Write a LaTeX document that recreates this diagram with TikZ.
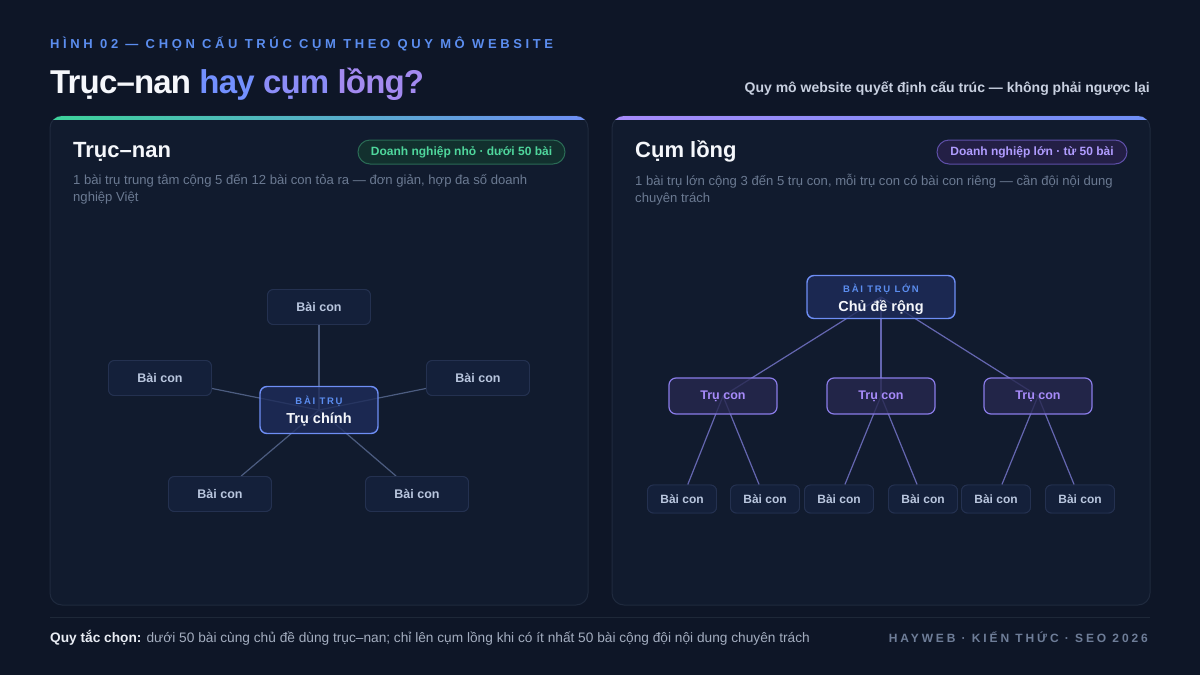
\documentclass[tikz,border=0pt]{standalone}
\usepackage{fontspec}
\setmainfont{Liberation Sans}
\usetikzlibrary{positioning}
\definecolor{bg}{HTML}{0E1627}
\definecolor{panelfill}{HTML}{111B2E}
\definecolor{panelborder}{HTML}{1F2A3E}
\definecolor{hdrblue}{HTML}{5B8DEF}
\definecolor{titlewhite}{HTML}{F5F7FB}
\definecolor{subgray}{HTML}{C8D0E0}
\definecolor{descgray}{HTML}{6B7A92}
\definecolor{leaffill}{HTML}{14203A}
\definecolor{leafborder}{HTML}{243150}
\definecolor{leaftext}{HTML}{B9C6DE}
\definecolor{lineleft}{HTML}{4C5C80}
\definecolor{hubfill}{HTML}{1E2C5A}
\definecolor{hubborder}{HTML}{6E8EF5}
\definecolor{lineright}{HTML}{6466B0}
\definecolor{subfill}{HTML}{27284F}
\definecolor{subborder}{HTML}{8A7CE8}
\definecolor{subtext}{HTML}{A78BFA}
\definecolor{footsep}{HTML}{1E2838}
\definecolor{footbold}{HTML}{E8ECF3}
\definecolor{foottext}{HTML}{A3ADBF}
\definecolor{footright}{HTML}{6E7D98}
\definecolor{greentop}{HTML}{3DD39A}
\definecolor{bluetop}{HTML}{6E8EF5}
\definecolor{purpletop}{HTML}{A78BFA}
\definecolor{greenpilltext}{HTML}{4FD69C}
\definecolor{greenpillfill}{HTML}{12302E}
\definecolor{greenpillborder}{HTML}{2A6B55}
\definecolor{purplepilltext}{HTML}{B09CFF}
\definecolor{purplepillfill}{HTML}{231F45}
\definecolor{purplepillborder}{HTML}{5E4FA8}
\definecolor{grad1}{HTML}{7390FF}
\definecolor{grad2}{HTML}{8C8DF8}
\definecolor{grad3}{HTML}{A38AF0}
\newcommand{\fsz}[1]{\fontsize{#1}{#1}\selectfont}
\tikzset{
  panel/.style={draw=panelborder, fill=panelfill, rounded corners=12pt, line width=1pt},
  leaf/.style={draw=leafborder, fill=leaffill, rounded corners=6pt, line width=0.9pt,
    minimum width=103pt, minimum height=35pt, inner sep=0pt, text=leaftext,
    font=\fsz{12.5}\bfseries},
  leafsm/.style={leaf, minimum width=69pt, minimum height=28pt, font=\fsz{12}\bfseries},
  hub/.style={draw=hubborder, fill=hubfill, fill opacity=0.8, text opacity=1,
    rounded corners=7pt, line width=1.4pt, inner sep=0pt, align=center},
  subpillar/.style={draw=subborder, fill=subfill, fill opacity=0.8, text opacity=1,
    rounded corners=7pt, line width=1.2pt, minimum width=108pt, minimum height=36pt,
    inner sep=0pt, text=subtext, font=\fsz{12.5}\bfseries},
  spoke/.style={draw=lineleft, line width=1.2pt},
  treeline/.style={draw=lineright, line width=1.2pt},
  pill/.style={rounded corners=12pt, line width=1pt, inner sep=0pt, minimum height=24pt,
    font=\fsz{12}\bfseries},
  txt/.style={inner sep=0pt, anchor=base west},
}
\begin{document}
\begin{tikzpicture}[x=1pt,y=-1pt]
\useasboundingbox (0,0) rectangle (1200,675);
\fill[bg] (0,0) rectangle (1200,675);

% header
\node[txt, text=hdrblue, font=\fsz{13}\bfseries\addfontfeatures{LetterSpace=28}] (hdr) at (50,48) {HÌNH 02 — CHỌN CẤU TRÚC CỤM THEO QUY MÔ WEBSITE};
\node[txt, font=\fsz{33}\bfseries\addfontfeatures{LetterSpace=-2.5}] (title) at (50,93) {\textcolor{titlewhite}{Trục–nan} \textcolor{grad1}{hay} \textcolor{grad2}{cụm} \textcolor{grad3}{lồng?}};
\node[inner sep=0pt, anchor=base east, text=subgray, font=\fsz{14}\bfseries] (subtitle) at (1150,92) {Quy mô website quyết định cấu trúc — không phải ngược lại};

% panels
\path[panel] (50,116) rectangle (588,605);
\path[panel] (612,116) rectangle (1150,605);
\begin{scope}
  \clip[rounded corners=12pt] (50,116) rectangle (588,605);
  \shade[left color=greentop, right color=bluetop] (50,115) rectangle (588,119);
\end{scope}
\begin{scope}
  \clip[rounded corners=12pt] (612,116) rectangle (1150,605);
  \shade[left color=purpletop, right color=bluetop] (612,115) rectangle (1150,119);
\end{scope}

% left panel header
\node[txt, text=titlewhite, font=\fsz{22}\bfseries] (ltitle) at (73,157) {Trục–nan};
\node[pill, draw=greenpillborder, fill=greenpillfill, text=greenpilltext, minimum width=207pt] (lpill) at (461.5,152) {Doanh nghiệp nhỏ · dưới 50 bài};
\node[txt, anchor=north west, text=descgray, font=\fsz{13.1}, align=left] (ldesc) at (73,174) {1 bài trụ trung tâm cộng 5 đến 12 bài con tỏa ra — đơn giản, hợp đa số doanh\\[4pt]nghiệp Việt};

% right panel header
\node[txt, text=titlewhite, font=\fsz{22}\bfseries] (rtitle) at (635,157) {Cụm lồng};
\node[pill, draw=purplepillborder, fill=purplepillfill, text=purplepilltext, minimum width=190pt] (rpill) at (1032,152) {Doanh nghiệp lớn · từ 50 bài};
\node[txt, anchor=north west, text=descgray, font=\fsz{13.1}, align=left] (rdesc) at (635,174) {1 bài trụ lớn cộng 3 đến 5 trụ con, mỗi trụ con có bài con riêng — cần đội nội dung\\[4pt]chuyên trách};

% left hub-and-spoke
\coordinate (hc) at (319,410);
\node[leaf] (l1) at (319,307) {Bài con};
\node[leaf] (l2) at (160,378) {Bài con};
\node[leaf] (l3) at (478,378) {Bài con};
\node[leaf] (l4) at (220,494) {Bài con};
\node[leaf] (l5) at (417,494) {Bài con};
\foreach \n in {l1,l2,l3,l4,l5} \draw[spoke] (hc) -- (\n);
\foreach \n in {l1,l2,l3,l4,l5} \node[leaf] at (\n) {Bài con};
\node[hub, minimum width=118pt, minimum height=47pt] (hub) at (hc) {\rule{0pt}{11pt}{\color{hdrblue}\fsz{9.5}\bfseries\addfontfeatures{LetterSpace=18}BÀI TRỤ}\\[6pt]{\color{titlewhite}\fsz{14.5}\bfseries Trụ chính}};

% right tree
\coordinate (tc) at (881,297);
\coordinate (s1c) at (723,396);
\coordinate (s2c) at (881,396);
\coordinate (s3c) at (1038,396);
\node[leafsm] (b1) at (682,499) {Bài con};
\node[leafsm] (b2) at (765,499) {Bài con};
\node[leafsm] (b3) at (839,499) {Bài con};
\node[leafsm] (b4) at (923,499) {Bài con};
\node[leafsm] (b5) at (996,499) {Bài con};
\node[leafsm] (b6) at (1080,499) {Bài con};
\draw[treeline] (tc) -- (s1c);
\draw[treeline] (tc) -- (s2c);
\draw[treeline] (tc) -- (s3c);
\draw[treeline] (s1c) -- (b1);
\draw[treeline] (s1c) -- (b2);
\draw[treeline] (s2c) -- (b3);
\draw[treeline] (s2c) -- (b4);
\draw[treeline] (s3c) -- (b5);
\draw[treeline] (s3c) -- (b6);
\foreach \n in {b1,b2,b3,b4,b5,b6} \node[leafsm] at (\n) {Bài con};
\node[hub, minimum width=148pt, minimum height=43pt] (top) at (tc) {\rule{0pt}{13pt}{\color{hdrblue}\fsz{9.5}\bfseries\addfontfeatures{LetterSpace=18}BÀI TRỤ LỚN}\\[5pt]{\color{titlewhite}\fsz{14.5}\bfseries Chủ đề rộng}};
\node[subpillar] (s1) at (s1c) {Trụ con};
\node[subpillar] (s2) at (s2c) {Trụ con};
\node[subpillar] (s3) at (s3c) {Trụ con};

% footer
\coordinate (fs1) at (50,617);
\coordinate (fs2) at (1150,617);
\draw[footsep, line width=1pt] (fs1) -- (fs2);
\node[txt, font=\fsz{13.7}] (rule) at (50,642) {\textcolor{footbold}{\bfseries Quy tắc chọn:} \textcolor{foottext}{dưới 50 bài cùng chủ đề dùng trục–nan; chỉ lên cụm lồng khi có ít nhất 50 bài cộng đội nội dung chuyên trách}};
\node[inner sep=0pt, anchor=base east, text=footright, font=\fsz{12}\bfseries\addfontfeatures{LetterSpace=24}] (brand) at (1148,642) {HAYWEB · KIẾN THỨC · SEO 2026};
\end{tikzpicture}
\end{document}
